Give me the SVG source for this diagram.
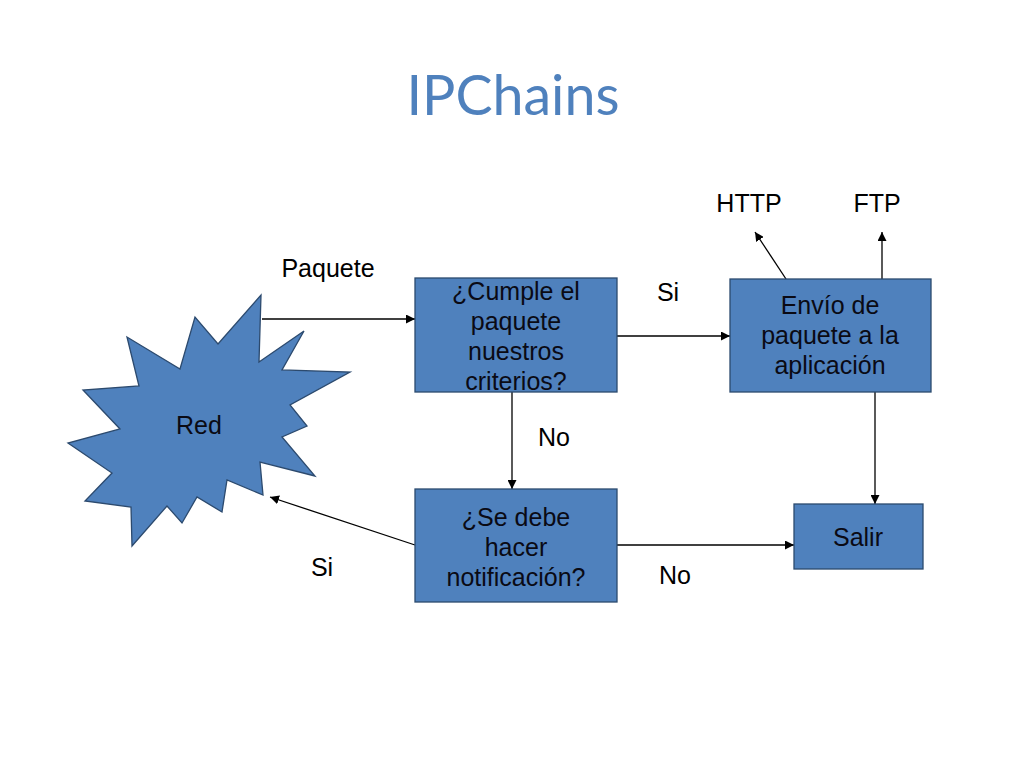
<svg xmlns="http://www.w3.org/2000/svg" width="1024" height="768" viewBox="0 0 1024 768">
<style>
.box{fill:#4F81BD;stroke:#2C4A6E;stroke-width:1.3}
.t{font-family:"Liberation Sans",Arial,sans-serif;font-size:25px;fill:#0a0a14;text-anchor:middle}
.lbl{font-family:"Liberation Sans",Arial,sans-serif;font-size:25px;fill:#000;text-anchor:middle}
.c{stroke:#000;stroke-width:1.3;fill:none;marker-end:url(#ah)}
</style>
<defs>
<marker id="ah" viewBox="0 0 10 10" refX="10" refY="5" markerWidth="9" markerHeight="9" markerUnits="userSpaceOnUse" orient="auto">
<path d="M0,0 L10,5 L0,10 z" fill="#000"/>
</marker>
</defs>
<rect width="1024" height="768" fill="#fff"/>
<text x="513" y="115" font-family="Lato,'Open Sans',sans-serif" font-size="56" fill="#4F81BD" text-anchor="middle" textLength="213" lengthAdjust="spacingAndGlyphs">IPChains</text>

<g id="connectors">
<line class="c" x1="262" y1="319" x2="415" y2="319"/>
<line class="c" x1="617" y1="336" x2="730" y2="336"/>
<line class="c" x1="786" y1="279" x2="755" y2="232"/>
<line class="c" x1="882" y1="279" x2="882" y2="232"/>
<line class="c" x1="512" y1="392" x2="512" y2="489"/>
<line class="c" x1="875" y1="392" x2="875" y2="504"/>
<line class="c" x1="617" y1="545" x2="794" y2="545"/>
<line class="c" x1="415" y1="545" x2="270" y2="497"/>
</g>

<g id="labels">
<text class="lbl" x="328" y="277">Paquete</text>
<text class="lbl" x="668" y="301">Si</text>
<text class="lbl" x="749" y="212">HTTP</text>
<text class="lbl" x="877" y="212">FTP</text>
<text class="lbl" x="554" y="446">No</text>
<text class="lbl" x="322" y="576">Si</text>
<text class="lbl" x="675" y="584">No</text>
</g>

<g id="red">
<polygon class="box" points="261,295 259,362 304,331 282,370 350,372 290,405 307,426 282,437 315,476 260,462 263,495 227,480 222,512 197,497 182,523 167,506 132,546 131,507 85,501 112,473 68,443 120,429 83,390 139,386 127,337 180,369 195,317 218,344"/>
<text class="t" x="199" y="434">Red</text>
</g>

<g id="cumple">
<rect class="box" x="415" y="278" width="202" height="114"/>
<text class="t" x="516" y="300">¿Cumple el</text>
<text class="t" x="516" y="330">paquete</text>
<text class="t" x="516" y="360">nuestros</text>
<text class="t" x="516" y="390">criterios?</text>
</g>

<g id="envio">
<rect class="box" x="730" y="279" width="201" height="113"/>
<text class="t" x="830" y="314">Envío de</text>
<text class="t" x="830" y="344">paquete a la</text>
<text class="t" x="830" y="374">aplicación</text>
</g>

<g id="notificacion">
<rect class="box" x="415" y="489" width="202" height="113"/>
<text class="t" x="516" y="526">¿Se debe</text>
<text class="t" x="516" y="556">hacer</text>
<text class="t" x="516" y="586">notificación?</text>
</g>

<g id="salir">
<rect class="box" x="794" y="504" width="129" height="65"/>
<text class="t" x="858" y="546">Salir</text>
</g>
</svg>
